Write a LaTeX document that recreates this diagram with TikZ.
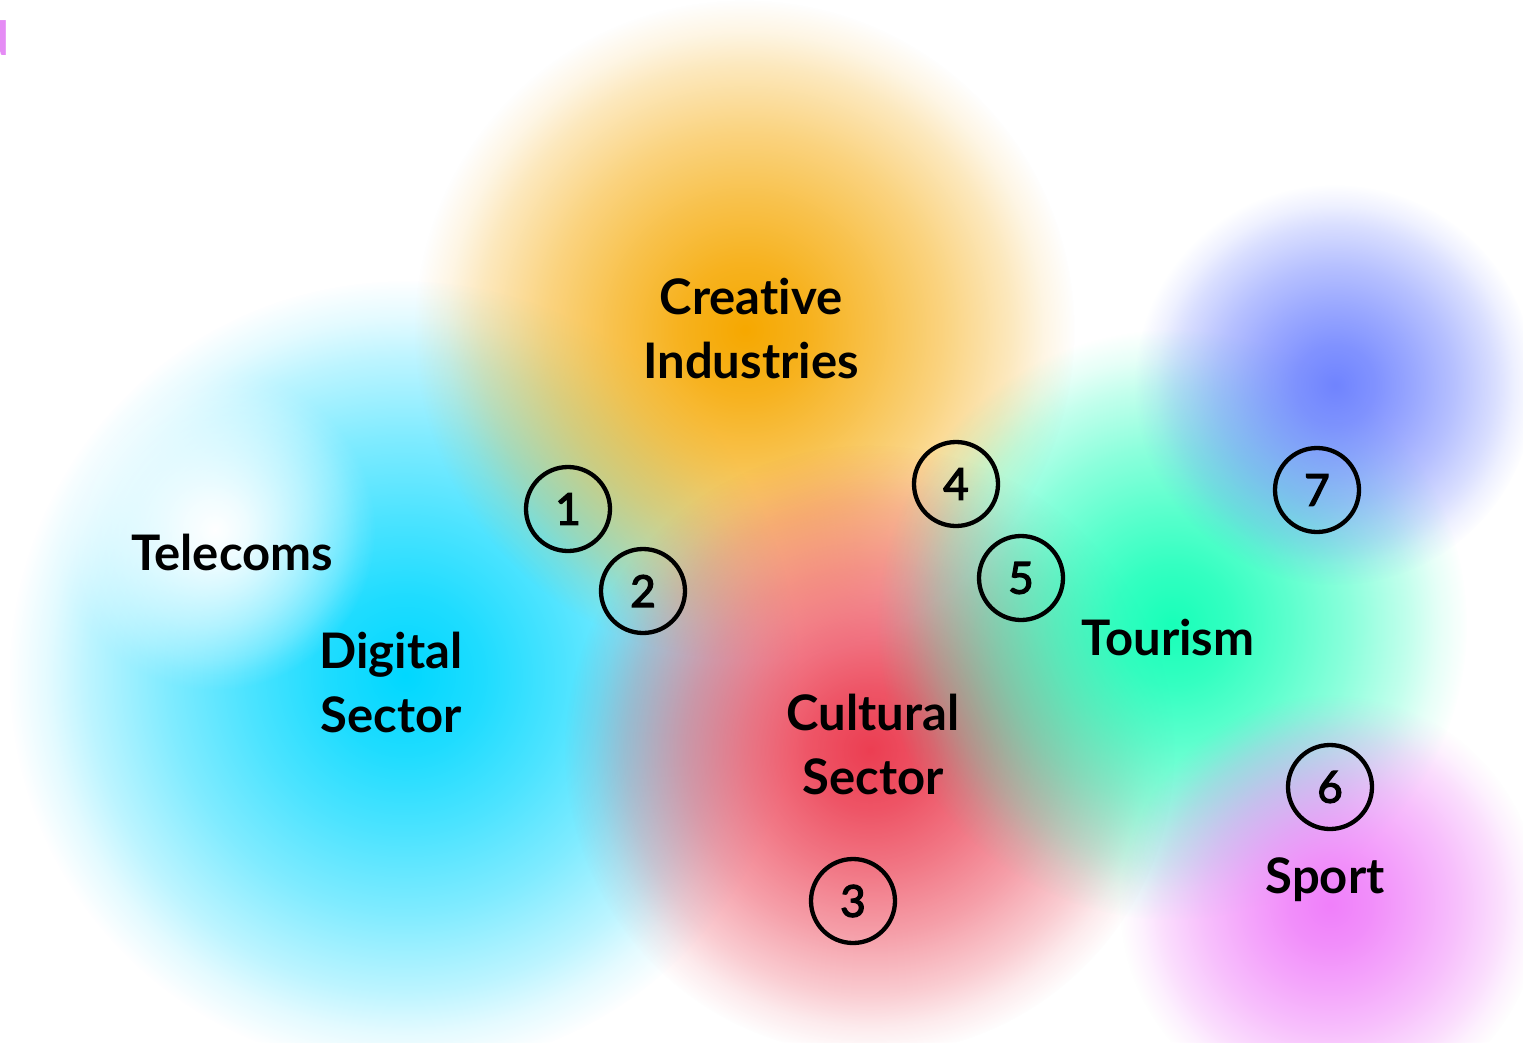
\documentclass[tikz,border=0pt]{standalone}
\usepackage{fontspec}
\setmainfont{Lato}[Ligatures=NoCommon]
\newfontfamily\numfont{Lato}[FakeBold=3]
\usetikzlibrary{fadings}
\definecolor{cOrange}{RGB}{246,168,0}
\definecolor{cCyan}{RGB}{0,216,255}
\definecolor{cRed}{RGB}{236,62,82}
\definecolor{cGreen}{RGB}{24,255,185}
\definecolor{cBlue}{RGB}{112,132,255}
\definecolor{cPink}{RGB}{240,128,250}
\definecolor{cStray}{RGB}{229,140,245}
\pgfdeclareradialshading{blobshade}{\pgfpointorigin}{color(0bp)=(white); color(5bp)=(white!88!black); color(10bp)=(white!70!black); color(15bp)=(white!50!black); color(20bp)=(white!26!black); color(22.5bp)=(white!11!black); color(25bp)=(black); color(50bp)=(black)}
\pgfdeclarefading{blobfade}{\pgfuseshading{blobshade}}
\tikzset{
  blob/.style={path fading=blobfade},
  lbl/.style={font=\bfseries\fontsize{49}{64}\selectfont, align=center, inner sep=0pt, text=black},
  numc/.style={circle, draw=black, line width=4.3pt, minimum size=84pt, inner sep=0pt, font=\numfont\fontsize{44}{44}\selectfont}
}
\begin{document}
\begin{tikzpicture}[x=1pt,y=-1pt]
\fill[white] (0,0) rectangle (1523,1042);
\useasboundingbox (0,0) rectangle (1523,1042);
% blobs
\fill[cCyan, blob] (405,675) circle (395pt);
\fill[white, blob] (215,530) circle (160pt);
\fill[cOrange, blob] (745,330) circle (330pt);
\fill[cRed, blob] (870,750) circle (305pt);
\fill[cGreen, blob] (1172,625) circle (295pt);
\fill[cBlue, blob] (1335,385) circle (200pt);
\fill[cPink, blob] (1330,905) circle (210pt);
% stray glyph
\node[font=\bfseries\fontsize{47}{47}\selectfont, text=cStray, anchor=base east, inner sep=0pt] (stray) at (9,55) {d};
% labels
\node[lbl, anchor=base] (creative) at (751,378) {Creative\\Industries};
\node[lbl, anchor=base] (telecoms) at (232,570) {Telecoms};
\node[lbl, anchor=base] (digital) at (391,732) {Digital\\Sector};
\node[lbl, anchor=base] (cultural) at (873,794) {Cultural\\Sector};
\node[lbl, anchor=base] (tourism) at (1168,655) {Tourism};
\node[lbl, anchor=base] (sport) at (1325,893) {Sport};
% numbered circles
\node[numc] (n1) at (568,509) {1};
\node[numc] (n2) at (643,591) {2};
\node[numc] (n3) at (853,901) {3};
\node[numc] (n4) at (956,484) {4};
\node[numc] (n5) at (1021,578) {5};
\node[numc] (n6) at (1330,787) {6};
\node[numc] (n7) at (1317,490) {7};
\end{tikzpicture}
\end{document}
